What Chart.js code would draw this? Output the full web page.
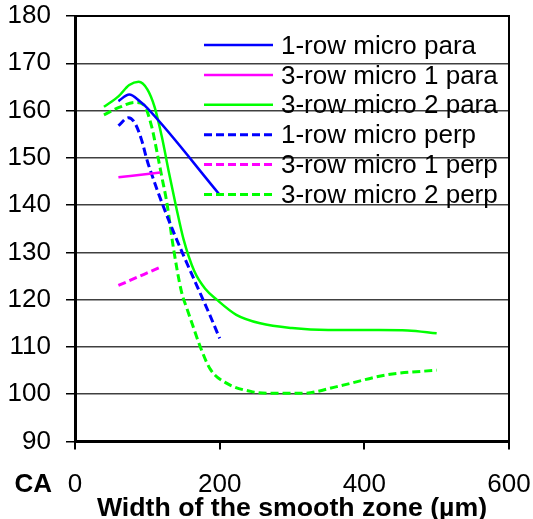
<!DOCTYPE html>
<html><head><meta charset="utf-8">
<script src="https://cdn.jsdelivr.net/npm/chart.js@4"></script>
<style>html,body{margin:0;padding:0;background:#fff}#wrap{width:533px;height:519px}</style>
</head><body><div id="wrap"><canvas id="c" width="533" height="519"></canvas></div>
<script>
// ---- data ----
const xTickValues = [0, 200, 400, 600];
const yTickValues = [90, 100, 110, 120, 130, 140, 150, 160, 170, 180];
const seriesLabels = ['1-row micro para', '3-row micro 1 para', '3-row micro 2 para',
                      '1-row micro perp', '3-row micro 1 perp', '3-row micro 2 perp'];

const x1RowPara = [60, 75, 90, 100, 200];
const y1RowPara = [162, 163.4, 161.9, 160.5, 142.2];

const x3Row1Para = [60, 118];
const y3Row1Para = [145.9, 146.9];

const x3Row2Para = [40, 60, 75, 88, 100, 110, 120, 130, 140, 150, 165, 180, 196, 223, 256, 300, 350, 420, 460, 500];
const y3Row2Para = [160.8, 163, 165.4, 166.1, 164.5, 160.8, 154.5, 146.8, 139.5, 132.8, 126, 122.3, 120, 116.8, 115, 114, 113.6, 113.6, 113.5, 112.9];

const x1RowPerp = [60, 74, 83, 92, 101, 200];
const y1RowPerp = [156.8, 158.5, 157.3, 153.8, 148.8, 111.8];

const x3Row1Perp = [60, 120];
const y3Row1Perp = [123, 127];

const x3Row2Perp = [40, 60, 83, 95, 106, 113, 120, 127, 136, 147, 155, 164, 173, 187, 210, 246, 270, 315, 362, 431, 500];
const y3Row2Perp = [159.1, 160.6, 161.7, 161.2, 156.6, 151.5, 146, 140.5, 131, 121.8, 118, 114, 110.1, 105.3, 102.3, 100.5, 100.2, 100.2, 101.6, 104.1, 105.1];

const xTitle = 'Width of the smooth zone (µm)';
const yTitle = 'CA';
// -------------------------------------------------

const FONT = '"Liberation Sans", Arial, sans-serif';
const pts = (xs, ys) => xs.map((x, i) => ({x: x, y: ys[i]}));
const BLUE = '#0000ff', MAG = '#ff00ff', GREEN = '#00ff00';
const DASH = [8, 4];

function ds(label, xs, ys, color, dashed) {
  return {
    label: label, data: pts(xs, ys), borderColor: color, backgroundColor: color,
    borderWidth: dashed ? 3 : 2.5, borderDash: dashed ? DASH : [],
    pointRadius: 0, fill: false, cubicInterpolationMode: 'monotone'
  };
}

const customPlugin = {
  id: 'custom',
  afterDraw(chart) {
    const {ctx, chartArea: a} = chart;
    ctx.save();
    // top and right frame
    ctx.strokeStyle = '#000'; ctx.lineWidth = 2; ctx.setLineDash([]);
    ctx.beginPath();
    ctx.moveTo(a.left, a.top); ctx.lineTo(a.right, a.top); ctx.lineTo(a.right, a.bottom);
    ctx.stroke();
    // CA label
    ctx.fillStyle = '#000';
    ctx.font = 'bold 26px ' + FONT;
    ctx.textAlign = 'right'; ctx.textBaseline = 'middle';
    ctx.fillText(yTitle, 52, 485);
    // legend
    ctx.font = '26px ' + FONT;
    ctx.textAlign = 'left';
    chart.data.datasets.forEach((d, i) => {
      const y = 45 + i * 29.9;
      ctx.strokeStyle = d.borderColor;
      ctx.lineWidth = d.borderWidth;
      ctx.setLineDash(d.borderDash || []);
      ctx.beginPath(); ctx.moveTo(204, y); ctx.lineTo(273, y); ctx.stroke();
      ctx.setLineDash([]);
      ctx.fillStyle = '#000';
      ctx.fillText(d.label, 281, y + 1.5);
    });
    ctx.restore();
  }
};

new Chart(document.getElementById('c'), {
  type: 'line',
  data: {
    datasets: [
      ds(seriesLabels[0], x1RowPara, y1RowPara, BLUE, false),
      ds(seriesLabels[1], x3Row1Para, y3Row1Para, MAG, false),
      ds(seriesLabels[2], x3Row2Para, y3Row2Para, GREEN, false),
      ds(seriesLabels[3], x1RowPerp, y1RowPerp, BLUE, true),
      ds(seriesLabels[4], x3Row1Perp, y3Row1Perp, MAG, true),
      ds(seriesLabels[5], x3Row2Perp, y3Row2Perp, GREEN, true)
    ]
  },
  options: {
    responsive: false, animation: false, devicePixelRatio: 1,
    layout: {padding: {left: 0, right: 24, top: 16, bottom: 0}},
    plugins: {legend: {display: false}, tooltip: {enabled: false}},
    scales: {
      x: {
        type: 'linear', min: xTickValues[0], max: xTickValues[xTickValues.length - 1],
        afterBuildTicks: s => { s.ticks = xTickValues.map(v => ({value: v})); },
        afterFit: s => { s.height = 77.5; s.paddingLeft = 0; s.paddingRight = 0; s.paddingTop = 0; s.paddingBottom = 0; },
        ticks: {font: {size: 26, family: FONT}, color: '#000', padding: 20, maxRotation: 0},
        grid: {drawOnChartArea: false, drawTicks: true, tickLength: 8, tickColor: '#000', lineWidth: 2},
        border: {display: true, color: '#000', width: 3},
        title: {display: true, text: xTitle, color: '#000',
                font: {size: 26.7, weight: 'bold', family: FONT, lineHeight: 1}, padding: {top: 0, bottom: -3}}
      },
      y: {
        type: 'linear', min: yTickValues[0], max: yTickValues[yTickValues.length - 1],
        afterBuildTicks: s => { s.ticks = yTickValues.map(v => ({value: v})); },
        afterFit: s => { s.width = 75; s.paddingLeft = 0; s.paddingRight = 0; s.paddingTop = 0; s.paddingBottom = 0; },
        ticks: {font: {size: 26, family: FONT}, color: '#000', padding: 15},
        grid: {color: '#404040', lineWidth: 1.5, tickLength: 9, tickColor: '#000'},
        border: {display: true, color: '#000', width: 3}
      }
    }
  },
  plugins: [customPlugin]
});
</script>
</body></html>
